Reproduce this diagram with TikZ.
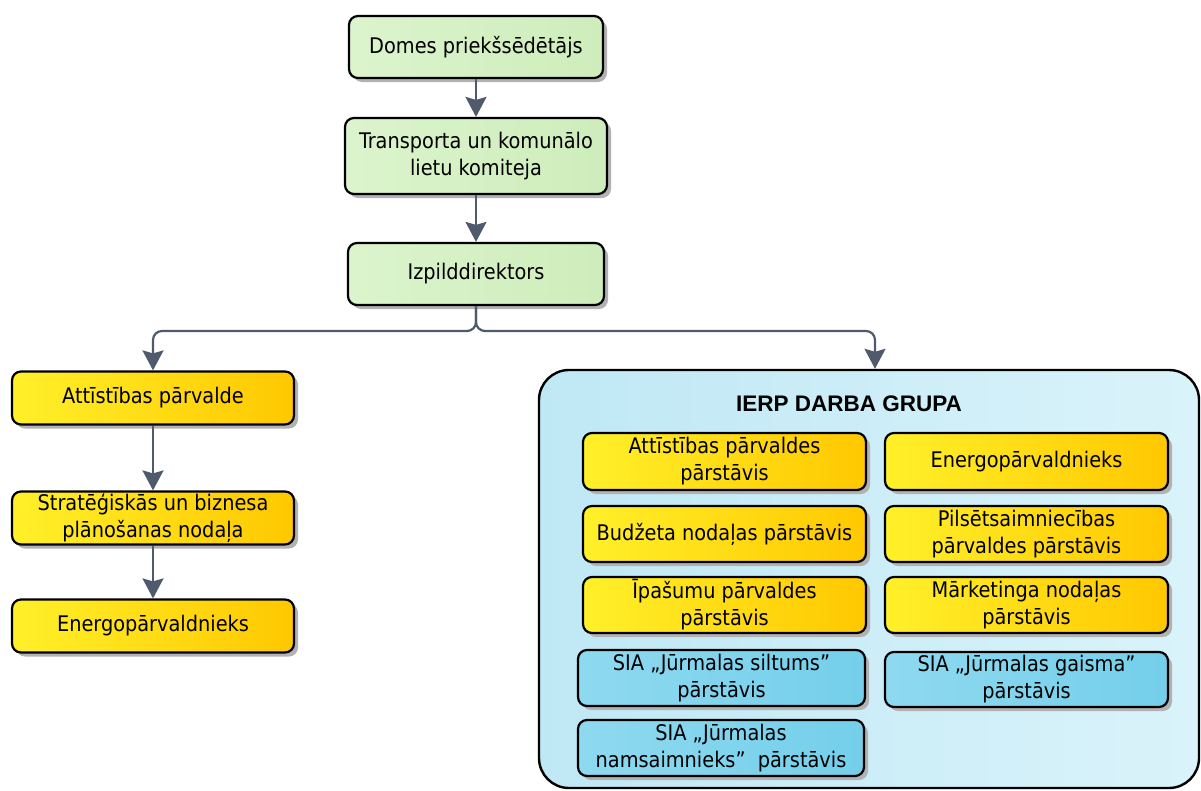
\documentclass[tikz,border=0pt]{standalone}
\usepackage{fontspec}
\setmainfont{DejaVu Sans Condensed}
\newfontfamily\titlefont{Liberation Sans}
\usetikzlibrary{arrows.meta,shadows}
\definecolor{grnA}{HTML}{DCF4CD}
\definecolor{grnB}{HTML}{CEEDBB}
\definecolor{ylwA}{HTML}{FFF02A}
\definecolor{ylwB}{HTML}{FFC800}
\definecolor{bluA}{HTML}{8ED9F0}
\definecolor{bluB}{HTML}{74CFEA}
\definecolor{grpA}{HTML}{BFE8F5}
\definecolor{grpB}{HTML}{DAF3FA}
\definecolor{conc}{HTML}{4F5A6C}
\tikzset{
  box/.style={draw=black, line width=2.2pt, rounded corners=9pt, align=center, inner sep=0pt,
    font=\fontsize{21.5}{27}\selectfont,
    drop shadow={shadow xshift=4pt, shadow yshift=-4pt, fill=gray!60, opacity=1}},
  gbox/.style={box, left color=grnA, right color=grnB},
  ybox/.style={box, left color=ylwA, right color=ylwB},
  bbox/.style={box, left color=bluA, right color=bluB},
  grp/.style={draw=black, line width=2.4pt, rounded corners=30pt, left color=grpA, right color=grpB},
  conn/.style={draw=conc, line width=2.2pt, -{Stealth[width=21pt,length=20pt,inset=3pt]}},
}
\begin{document}
\begin{tikzpicture}[x=1pt,y=-1pt]
\useasboundingbox (0,0) rectangle (1201,790);
\node[grp, minimum width=660pt, minimum height=418pt] (grp) at (869,579) {};
\node[font=\titlefont\bfseries\fontsize{22.5}{27}\selectfont] (title) at (849,404) {IERP DARBA GRUPA};

\node[gbox, minimum width=254pt, minimum height=62pt] (dom) at (476,47) {Domes priekšsēdētājs};
\node[gbox, minimum width=262pt, minimum height=76pt] (tra) at (476,156) {Transporta un komunālo\\lietu komiteja};
\node[gbox, minimum width=256pt, minimum height=62pt] (izp) at (476,274) {Izpilddirektors};

\node[ybox, minimum width=282pt, minimum height=53pt] (att) at (153,398) {Attīstības pārvalde};
\node[ybox, minimum width=282pt, minimum height=53pt] (str) at (153,518) {Stratēģiskās un biznesa\\plānošanas nodaļa};
\node[ybox, minimum width=282pt, minimum height=53pt] (ene) at (153,626) {Energopārvaldnieks};

\node[ybox, minimum width=283pt, minimum height=57pt] (g1) at (724.5,461.5) {Attīstības pārvaldes\\pārstāvis};
\node[ybox, minimum width=283pt, minimum height=57pt] (g2) at (1026.5,461.5) {Energopārvaldnieks};
\node[ybox, minimum width=283pt, minimum height=56pt] (g3) at (724.5,534) {Budžeta nodaļas pārstāvis};
\node[ybox, minimum width=283pt, minimum height=56pt] (g4) at (1026.5,534) {Pilsētsaimniecības\\pārvaldes pārstāvis};
\node[ybox, minimum width=283pt, minimum height=56pt] (g5) at (724.5,605) {Īpašumu pārvaldes\\pārstāvis};
\node[ybox, minimum width=283pt, minimum height=56pt] (g6) at (1026.5,605) {Mārketinga nodaļas\\pārstāvis};
\node[bbox, minimum width=287pt, minimum height=56pt] (g7) at (721.5,678) {SIA „Jūrmalas siltums”\\pārstāvis};
\node[bbox, minimum width=283pt, minimum height=55pt] (g8) at (1026.5,679.5) {SIA „Jūrmalas gaisma”\\pārstāvis};
\node[bbox, minimum width=286pt, minimum height=56pt] (g9) at (721,748) {SIA „Jūrmalas\\namsaimnieks”\ \ pārstāvis};

\draw[conn] (dom) -- (tra);
\draw[conn] (tra) -- (izp);
\draw[conn] (att) -- (str);
\draw[conn] (str) -- (ene);
\coordinate (lb) at (153,331);
\coordinate (rb) at (875,331);
\draw[conn, rounded corners=9pt] (izp.south) -- (izp.south |- lb) -- (lb) -- (att.north);
\draw[conn, rounded corners=9pt] (izp.south) -- (izp.south |- rb) -- (rb) -- (rb |- grp.north);
\end{tikzpicture}
\end{document}
